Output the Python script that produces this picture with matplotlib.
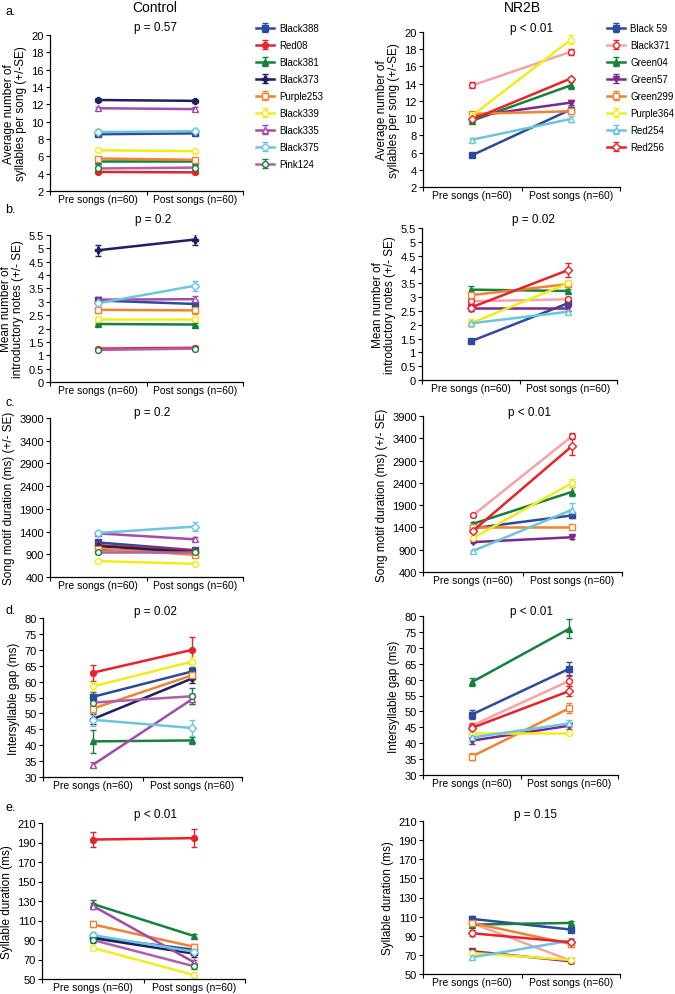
import matplotlib
matplotlib.use('Agg')
import matplotlib.pyplot as plt

plt.rcParams['font.family'] = ['Liberation Sans', 'DejaVu Sans']

conditions = ['Pre songs (n=60)', 'Post songs (n=60)']

control_birds = ['Black388', 'Red08', 'Black381', 'Black373', 'Purple253',
                 'Black339', 'Black335', 'Black375', 'Pink124']
nr2b_birds = ['Black 59', 'Black371', 'Green04', 'Green57', 'Green299',
              'Purple364', 'Red254', 'Red256']

# values as [pre, post], in the order of the bird lists above
ctrl_syllables = [[8.55, 8.65], [4.2, 4.15], [5.5, 5.5], [12.5, 12.4], [5.75, 5.6],
                  [6.7, 6.6], [11.55, 11.45], [8.8, 8.9], [4.6, 4.7]]
ctrl_syllables_se = [[0.2, 0.2], [0.15, 0.15], [0.15, 0.15], [0.2, 0.2], [0.15, 0.15],
                     [0.15, 0.15], [0.2, 0.2], [0.3, 0.3], [0.25, 0.25]]
nr2b_syllables = [[5.7, 11.0], [13.8, 17.7], [9.7, 13.8], [10.2, 11.8], [10.5, 10.8],
                  [10.3, 19.1], [7.5, 9.9], [9.85, 14.6]]
nr2b_syllables_se = [[0.2, 0.3], [0.35, 0.35], [0.15, 0.4], [0.15, 0.3], [0.2, 0.2],
                     [0.2, 0.5], [0.2, 0.35], [0.2, 0.2]]

ctrl_intro = [[3.05, 2.92], [1.25, 1.28], [2.17, 2.15], [4.93, 5.33], [2.7, 2.68],
              [2.35, 2.35], [3.08, 3.1], [2.95, 3.6], [1.2, 1.25]]
ctrl_intro_se = [[0.12, 0.12], [0.05, 0.05], [0.05, 0.05], [0.2, 0.2], [0.12, 0.12],
                 [0.1, 0.1], [0.1, 0.1], [0.15, 0.18], [0.05, 0.05]]
nr2b_intro = [[1.4, 2.78], [2.85, 2.92], [3.27, 3.22], [2.6, 2.6], [3.07, 3.47],
              [2.05, 3.5], [2.05, 2.47], [2.62, 3.98]]
nr2b_intro_se = [[0.05, 0.1], [0.1, 0.1], [0.12, 0.08], [0.12, 0.12], [0.1, 0.1],
                 [0.15, 0.1], [0.08, 0.08], [0.12, 0.25]]

ctrl_motif = [[1160, 990], [1100, 980], [1000, 960], [1080, 950], [1020, 890],
              [750, 690], [1360, 1230], [1370, 1510], [960, 960]]
ctrl_motif_se = [[40, 40], [40, 40], [30, 30], [30, 30], [30, 30],
                 [30, 30], [40, 40], [40, 90], [50, 50]]
nr2b_motif = [[1380, 1670], [1670, 3450], [1480, 2200], [1070, 1180], [1400, 1400],
              [1160, 2400], [870, 1800], [1320, 3230]]
nr2b_motif_se = [[40, 60], [40, 60], [40, 100], [30, 30], [30, 30],
                 [40, 90], [30, 150], [40, 200]]

ctrl_gap = [[55.2, 63.2], [62.8, 70.0], [41.2, 41.5], [48.2, 61.0], [51.5, 62.0],
            [58.5, 66.3], [33.8, 54.5], [48.0, 45.4], [53.4, 55.4]]
ctrl_gap_se = [[1.5, 1.5], [2.5, 4.0], [3.5, 1.0], [1.5, 1.5], [1.5, 1.5],
               [1.5, 1.5], [0.8, 1.5], [2.0, 2.5], [2.5, 2.5]]
nr2b_gap = [[49.0, 63.4], [45.5, 59.6], [59.2, 76.0], [40.8, 45.5], [35.8, 51.0],
            [43.3, 43.3], [41.8, 46.2], [44.8, 56.4]]
nr2b_gap_se = [[1.5, 2.0], [1.0, 1.5], [1.2, 3.0], [1.0, 1.0], [1.0, 1.5],
               [0.8, 0.8], [1.0, 1.0], [1.0, 1.5]]

ctrl_sylldur = [[93, 80], [193, 194.5], [127, 94], [92, 76], [106, 83],
                [82, 54], [125, 67], [95, 78], [90, 63]]
ctrl_sylldur_se = [[3, 3], [8, 9], [4, 2], [3, 3], [3, 3],
                   [2, 2], [3, 3], [3, 3], [3, 3]]
nr2b_sylldur = [[107.6, 96.5], [103, 64], [101.7, 103.4], [73.8, 63.3], [103.4, 81.4],
                [72, 64.7], [67.5, 84.9], [92.6, 83.2]]
nr2b_sylldur_se = [[3, 3], [2, 2], [2, 2], [2, 2], [3, 3],
                   [2, 2], [2, 3], [3, 3]]

ctrl_p = ['p = 0.57', 'p = 0.2', 'p = 0.2', 'p = 0.02', 'p < 0.01']
nr2b_p = ['p < 0.01', 'p = 0.02', 'p < 0.01', 'p < 0.01', 'p = 0.15']

ylabels = ['Average number of\nsyllables per song (+/-SE)',
           'Mean number of\nintroductory notes (+/- SE)',
           'Song motif duration (ms) (+/- SE)',
           'Intersyllable gap (ms)',
           'Syllable duration (ms)']
yranges = [(2, 20, 2), (0, 5.5, 0.5), (400, 3900, 500), (30, 80, 5), (50, 210, 20)]
panel_letters = ['a.', 'b.', 'c.', 'd.', 'e.']

# colour / marker styles
ctrl_styles = [('#2c4a9e', 's', True), ('#e8222a', 'o', True), ('#17803d', '^', True),
               ('#1d1f5f', 'P', True), ('#f28130', 's', False), ('#f2ec1c', 'o', False),
               ('#a54aa8', '^', False), ('#6cc5dc', 'D', False), ('#b15ead', 'o', False)]
ctrl_marker_edge = [None, None, None, None, None, None, None, None, '#17803d']
nr2b_styles = [('#2c4a9e', 's', True), ('#f5a3a6', 'o', False), ('#17803d', '^', True),
               ('#7a2a8e', 'v', True), ('#f28130', 's', False), ('#f2ec1c', 'o', False),
               ('#6cc5dc', '^', False), ('#e8222a', 'D', False)]
nr2b_marker_edge = [None, '#e8222a', None, None, None, None, None, None]

W, H = 675, 995
fig = plt.figure(figsize=(W / 100, H / 100), dpi=100)

# axes boxes in pixels: (left, top, right, bottom)
ctrl_boxes = [(50, 36, 243, 192), (50, 236, 243, 383), (50, 419, 243, 578),
              (43, 619, 242, 778), (42, 824, 245, 980)]
nr2b_boxes = [(423, 33, 620, 188), (422, 229, 617, 381), (423, 417, 622, 573),
              (423, 617, 618, 776), (423, 822, 620, 975)]
ctrl_ptext = [(156, 28), (153, 220), (152, 413), (155, 612), (155, 815)]
nr2b_ptext = [(532, 29), (533, 220), (530, 413), (532, 612), (535, 815)]
letter_y = [12, 210, 403, 611, 808]


def make_axes(box):
    l, t, r, b = box
    return fig.add_axes([l / W, 1 - b / H, (r - l) / W, (b - t) / H])


def draw_panel(ax, values, errors, styles, edges, names, yr, ylabel, ptxt, ppos):
    x = [0.5, 1.5]
    for vals, se, (col, mk, filled), edge, name in zip(values, errors, styles, edges, names):
        ec = edge if edge else col
        ax.errorbar(x, vals, yerr=se, color=col, lw=1.8, marker=mk, ms=4.2,
                    mfc=(ec if filled else 'white'), mec=ec, mew=1.0,
                    ecolor=ec, elinewidth=1.0, capsize=2.2, capthick=1.0, label=name)
    lo, hi, step = yr
    ax.set_ylim(lo, hi)
    n = int(round((hi - lo) / step))
    ticks = [lo + i * step for i in range(n + 1)]
    ax.set_yticks(ticks)
    ax.set_yticklabels(['%g' % t for t in ticks])
    ax.set_xlim(0, 2)
    ax.set_xticks([0, 1, 2])
    ax.set_xticklabels([])
    ax.set_xticks(x, minor=True)
    ax.set_xticklabels(conditions, minor=True)
    ax.tick_params(axis='x', which='minor', length=0, labelsize=7.5, pad=2)
    ax.tick_params(axis='x', which='major', length=3, width=0.8)
    ax.tick_params(axis='y', length=3, width=0.8, labelsize=8, pad=1.5)
    for s in ['top', 'right']:
        ax.spines[s].set_visible(False)
    for s in ['left', 'bottom']:
        ax.spines[s].set_linewidth(0.9)
    ax.set_ylabel(ylabel, fontsize=8.5, labelpad=3, linespacing=1.05)
    fig.text(ppos[0] / W, 1 - ppos[1] / H, ptxt, ha='center', va='center', fontsize=8.5)


ctrl_values = [ctrl_syllables, ctrl_intro, ctrl_motif, ctrl_gap, ctrl_sylldur]
ctrl_errors = [ctrl_syllables_se, ctrl_intro_se, ctrl_motif_se, ctrl_gap_se, ctrl_sylldur_se]
nr2b_values = [nr2b_syllables, nr2b_intro, nr2b_motif, nr2b_gap, nr2b_sylldur]
nr2b_errors = [nr2b_syllables_se, nr2b_intro_se, nr2b_motif_se, nr2b_gap_se, nr2b_sylldur_se]

legend_kw = dict(loc='upper left', frameon=False, fontsize=7, handlelength=1.8,
                 handletextpad=0.6, labelspacing=0.72, borderpad=0, borderaxespad=0,
                 bbox_transform=fig.transFigure)

for i in range(5):
    axl = make_axes(ctrl_boxes[i])
    draw_panel(axl, ctrl_values[i], ctrl_errors[i], ctrl_styles, ctrl_marker_edge,
               control_birds, yranges[i], ylabels[i], ctrl_p[i], ctrl_ptext[i])
    axr = make_axes(nr2b_boxes[i])
    draw_panel(axr, nr2b_values[i], nr2b_errors[i], nr2b_styles, nr2b_marker_edge,
               nr2b_birds, yranges[i], ylabels[i], nr2b_p[i], nr2b_ptext[i])
    fig.text(5 / W, 1 - letter_y[i] / H, panel_letters[i], ha='left', va='center', fontsize=9)
    if i == 0:
        axl.legend(bbox_to_anchor=(256 / W, 1 - 24 / H), **legend_kw)
        axr.legend(bbox_to_anchor=(607 / W, 1 - 24 / H), **legend_kw)

fig.text(155 / W, 1 - 8 / H, 'Control', ha='center', va='center', fontsize=10)
fig.text(522 / W, 1 - 8 / H, 'NR2B', ha='center', va='center', fontsize=10)

fig.savefig('out.png', dpi=100)
